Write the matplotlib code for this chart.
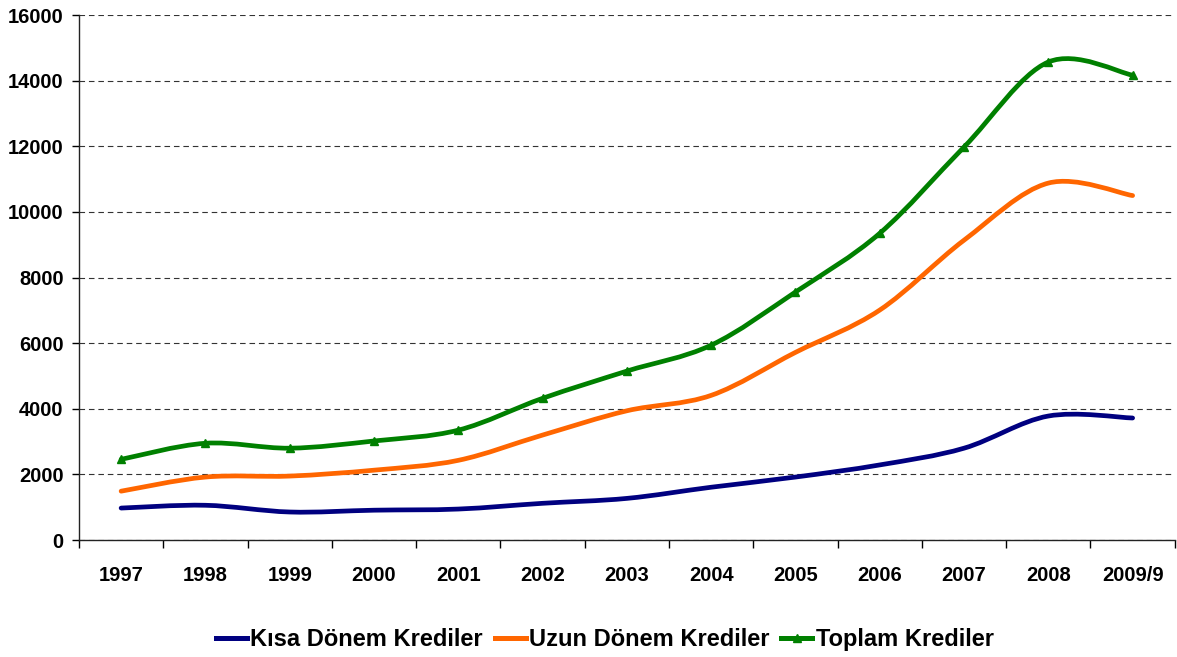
import numpy as np
import matplotlib.pyplot as plt
from matplotlib.path import Path
from matplotlib.patches import PathPatch
from matplotlib.lines import Line2D

plt.rcParams['font.family'] = ['Liberation Sans', 'DejaVu Sans']

years = ['1997', '1998', '1999', '2000', '2001', '2002', '2003',
         '2004', '2005', '2006', '2007', '2008', '2009/9']
kisa = [975, 1060, 855, 910, 945, 1120, 1270, 1610, 1920, 2290, 2800, 3780, 3720]
uzun = [1490, 1920, 1950, 2130, 2430, 3200, 3940, 4410, 5720, 7010, 9140, 10880, 10500]
toplam = [2460, 2950, 2800, 3020, 3350, 4320, 5150, 5940, 7560, 9350, 11980, 14570, 14170]

colors = ['#000080', '#FF6600', '#008000']
labels = ['Kısa Dönem Krediler', 'Uzun Dönem Krediler', 'Toplam Krediler']


def smooth_path(x, y):
    # excel-like smoothed line: bezier segments with catmull-rom control points
    x = np.asarray(x, float)
    y = np.asarray(y, float)
    n = len(x)
    verts = [(x[0], y[0])]
    codes = [Path.MOVETO]
    for i in range(n - 1):
        p0 = (x[max(i - 1, 0)], y[max(i - 1, 0)])
        p1 = (x[i], y[i])
        p2 = (x[i + 1], y[i + 1])
        p3 = (x[min(i + 2, n - 1)], y[min(i + 2, n - 1)])
        c1 = (p1[0] + (p2[0] - p0[0]) / 6, p1[1] + (p2[1] - p0[1]) / 6)
        c2 = (p2[0] - (p3[0] - p1[0]) / 6, p2[1] - (p3[1] - p1[1]) / 6)
        verts += [c1, c2, p2]
        codes += [Path.CURVE4] * 3
    return Path(verts, codes)


fig = plt.figure(figsize=(11.77, 6.57), dpi=100)
ax = fig.add_axes([0.0671, 0.178, 0.931, 0.799])

xs = np.arange(len(years))
for vals, c in zip([kisa, uzun, toplam], colors):
    patch = PathPatch(smooth_path(xs, vals), facecolor='none', edgecolor=c,
                      lw=3.4, capstyle='round', joinstyle='round', zorder=3)
    ax.add_patch(patch)
ax.plot(xs, toplam, ls='none', marker='^', ms=6, color=colors[2], zorder=4)

ax.set_xlim(-0.5, len(years) - 0.5)
ax.set_ylim(0, 16000)
ax.set_yticks(np.arange(0, 16001, 2000))
ax.set_yticklabels([str(v) for v in range(0, 16001, 2000)],
                   fontsize=14.5, fontweight='bold')
ax.yaxis.grid(True, ls=(0, (5, 3.5)), color='#333333', lw=0.8)
ax.set_axisbelow(True)

ax.set_xticks(np.arange(-0.5, len(years), 1))
ax.set_xticklabels([])
ax.set_xticks(xs, minor=True)
ax.set_xticklabels(years, minor=True, fontsize=14.5, fontweight='bold')
ax.tick_params(axis='x', which='major', length=6, width=1, direction='out')
ax.tick_params(axis='x', which='minor', length=0, pad=19)
ax.tick_params(axis='y', length=5, width=1, pad=6)

for s in ['top', 'right']:
    ax.spines[s].set_visible(False)
for s in ['left', 'bottom']:
    ax.spines[s].set_color('#222222')
    ax.spines[s].set_linewidth(1)

handles = [Line2D([], [], color=colors[0], lw=3.6),
           Line2D([], [], color=colors[1], lw=3.6),
           Line2D([], [], color=colors[2], lw=3.6, marker='^', ms=6)]
leg = fig.legend(handles, labels, loc='center', bbox_to_anchor=(0.514, 0.026),
                 ncol=3, frameon=False, handlelength=1.3, handletextpad=0.15,
                 columnspacing=0.5, prop={'size': 17, 'weight': 'bold'})

fig.savefig('out.png', dpi=100)
